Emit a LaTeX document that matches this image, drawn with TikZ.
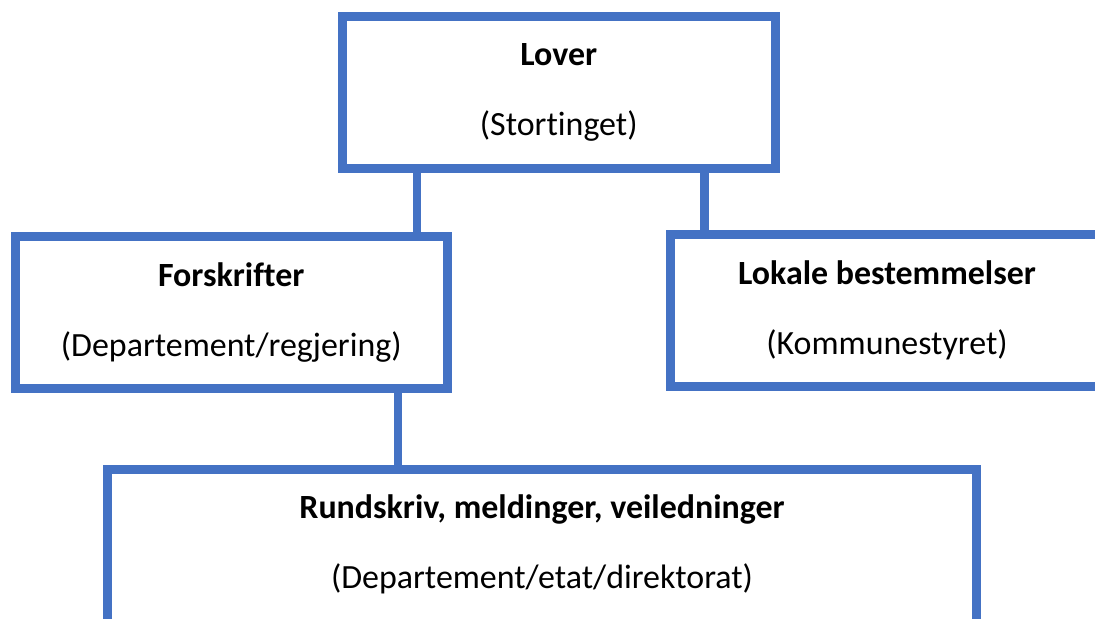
\documentclass[tikz,border=0pt]{standalone}
\usepackage{fontspec}
\setmainfont{Carlito}[Ligatures=NoCommon]
\usepackage{xcolor}
\definecolor{boxblue}{RGB}{68,114,196}

\begin{document}
\begin{tikzpicture}[
    lawbox/.style={draw=boxblue, line width=0.18cm, minimum height=3.04cm, align=center,
        font=\fontsize{19.3pt}{40pt}\selectfont},
    link/.style={draw=boxblue, line width=0.17cm}
]
    % Fix the frame of the picture
    \useasboundingbox (0,0) rectangle (21.9,-12.38);
    \clip (0,0) rectangle (21.9,-12.38);

    % Create the boxes at their places
    \node[lawbox, minimum width=8.67cm] (lover) at (11.175,-1.85) {\textbf{Lover}\\(Stortinget)};
    \node[lawbox, minimum width=8.65cm] (forskrifter) at (4.625,-6.25) {\textbf{Forskrifter}\\(Departement/regjering)};
    \node[lawbox, minimum width=8.67cm] (lokale) at (17.74,-6.2) {\textbf{Lokale bestemmelser}\\(Kommunestyret)};
    \node[lawbox, minimum width=17.38cm, minimum height=3.44cm, text depth=0.56cm] (rundskriv) at (10.84,-11.11) {\textbf{Rundskriv, meldinger, veiledninger}\\(Departement/etat/direktorat)};

    % Where the links meet the boxes
    \coordinate (xa) at (8.34,0);
    \coordinate (xb) at (14.09,0);
    \coordinate (xc) at (7.96,0);

    % Draw the links
    \draw[link] (lover.south -| xa) -- (forskrifter.north -| xa);
    \draw[link] (lover.south -| xb) -- (lokale.north -| xb);
    \draw[link] (forskrifter.south -| xc) -- (rundskriv.north -| xc);
\end{tikzpicture}
\end{document}
